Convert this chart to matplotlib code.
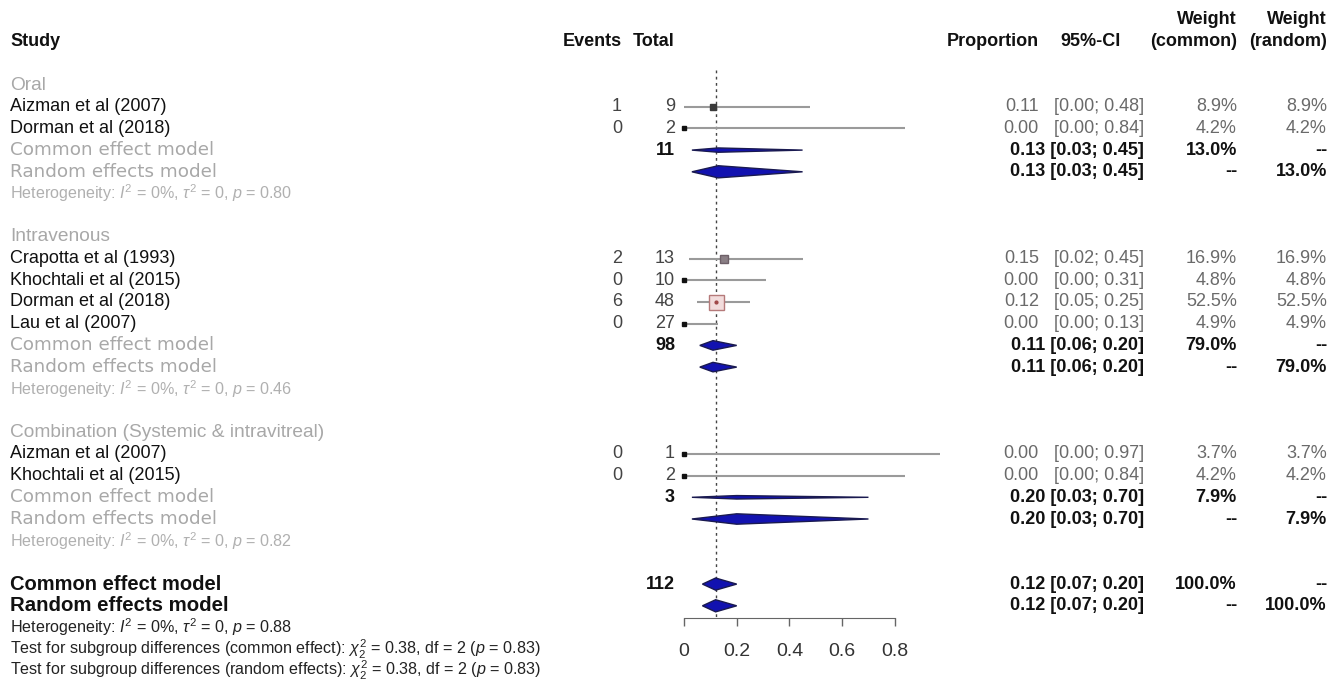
import numpy as np
import matplotlib
matplotlib.use('Agg')
import matplotlib.pyplot as plt
from matplotlib.transforms import blended_transform_factory
from matplotlib.patches import Polygon

plt.rcParams['font.family'] = ['Liberation Sans', 'DejaVu Sans']
plt.rcParams['mathtext.fontset'] = 'custom'
plt.rcParams['mathtext.rm'] = 'Liberation Sans'
plt.rcParams['mathtext.it'] = 'Liberation Sans:italic'
plt.rcParams['mathtext.bf'] = 'Liberation Sans:bold'

# 研究数据
group_names = ["Oral", "Intravenous", "Combination (Systemic & intravitreal)"]
study_group = [0, 0, 1, 1, 1, 1, 2, 2]
study_names = ["Aizman et al (2007)", "Dorman et al (2018)",
               "Crapotta et al (1993)", "Khochtali et al (2015)",
               "Dorman et al (2018)", "Lau et al (2007)",
               "Aizman et al (2007)", "Khochtali et al (2015)"]
events = [1, 0, 2, 0, 6, 0, 0, 0]
totals = [9, 2, 13, 10, 48, 27, 1, 2]
prop = [0.11, 0.00, 0.15, 0.00, 0.12, 0.00, 0.00, 0.00]
ci_lo = [0.00, 0.00, 0.02, 0.00, 0.05, 0.00, 0.00, 0.00]
ci_hi = [0.48, 0.84, 0.45, 0.31, 0.25, 0.13, 0.97, 0.84]
weight = [8.9, 4.2, 16.9, 4.8, 52.5, 4.9, 3.7, 4.2]

# 亚组合并结果 (common 与 random 相同)
grp_total = [11, 98, 3]
grp_est = [0.13, 0.11, 0.20]
grp_lo = [0.03, 0.06, 0.03]
grp_hi = [0.45, 0.20, 0.70]
grp_weight = [13.0, 79.0, 7.9]
grp_het_p = ["0.80", "0.46", "0.82"]

overall_total = 112
overall_est = 0.12
overall_lo = 0.07
overall_hi = 0.20
overall_het_p = "0.88"
subgroup_chi2 = "0.38"
subgroup_df = 2
subgroup_p = "0.83"

ticks = [0, 0.2, 0.4, 0.6, 0.8]

# 方块颜色
sq_face = ['#3a3a3a', '#111111', '#8a7f85', '#111111', '#f2dcdc', '#111111', '#111111', '#111111']
sq_edge = ['#3a3a3a', '#111111', '#6e6068', '#111111', '#b57a7a', '#111111', '#111111', '#111111']
common_h = [0.10, 0.22, 0.08]
random_h = [0.28, 0.22, 0.24]

GRAY = '#a8a8a8'
VALC = '#6a6a6a'
DIA_FACE = '#1212b0'
DIA_EDGE = '#1a1a50'
FS = 13
FS_SMALL = 11.6

W, H = 1340, 684
fig = plt.figure(figsize=(W / 100, H / 100), dpi=100)
ax = fig.add_axes([0, 0, 1, 1])
px_unit = 263.5
x0_px = 684
row_h = 21.7
y0_px = 63.3
ax.set_xlim(-x0_px / px_unit, (W - x0_px) / px_unit)
ax.set_ylim((H - y0_px) / row_h, -y0_px / row_h)
trans = blended_transform_factory(fig.transFigure, ax.transData)

# 列位置 (px)
X_STUDY = 10
X_EVENTS = 622
X_TOTAL = 675
X_PROP = 1039
X_CI = 1144
X_CI_HEAD = 1121
X_WC = 1237
X_WR = 1327


def txt(xpx, row, s, ha='right', **kw):
    kw.setdefault('fontsize', FS)
    ax.text(xpx / W, row, s, transform=trans, ha=ha, va='center', **kw)


def diamond(est, lo, hi, row, h):
    ax.add_patch(Polygon([(lo, row), (est, row - h), (hi, row), (est, row + h)],
                         closed=True, fc=DIA_FACE, ec=DIA_EDGE, lw=1, zorder=4))


grp_lab = dict(ha='left', color=GRAY, fontsize=13.8)
model_lab = dict(ha='left', color=GRAY, fontsize=13.2, family=['DejaVu Sans'])

# 表头
bold = dict(fontweight='bold', color='#111111')
txt(X_STUDY, -1, "Study", ha='left', **bold)
txt(X_EVENTS, -1, "Events", **bold)
txt(X_TOTAL, -1, "Total", **bold)
txt(X_PROP, -1, "Proportion", **bold)
txt(X_CI_HEAD, -1, "95%-CI", **bold)
txt(X_WC, -1, "(common)", **bold)
txt(X_WC, -2, "Weight", **bold)
txt(X_WR, -1, "(random)", **bold)
txt(X_WR, -2, "Weight", **bold)

row = 1
for g, gname in enumerate(group_names):
    txt(X_STUDY, row, gname, **grp_lab)
    row += 1
    for i in [k for k, sg in enumerate(study_group) if sg == g]:
        txt(X_STUDY, row, study_names[i], ha='left', color='#111111')
        txt(X_EVENTS, row, str(events[i]), color='#444444')
        txt(X_TOTAL, row, str(totals[i]), color='#444444')
        txt(X_PROP, row, f"{prop[i]:.2f}", color=VALC)
        txt(X_CI, row, f"[{ci_lo[i]:.2f}; {ci_hi[i]:.2f}]", color=VALC)
        txt(X_WC, row, f"{weight[i]:.1f}%", color=VALC)
        txt(X_WR, row, f"{weight[i]:.1f}%", color=VALC)
        ax.plot([ci_lo[i], ci_hi[i]], [row, row], color='#9a9a9a', lw=1.5,
                solid_capstyle='butt', zorder=2)
        side = 15 * np.sqrt(weight[i] / 52.5) * 0.72
        ax.plot(prop[i], row, marker='s', ms=side, mfc=sq_face[i], mec=sq_edge[i],
                mew=1, zorder=3)
        if weight[i] > 30:
            ax.plot(prop[i], row, marker='o', ms=2, color='#a04848', zorder=4)
        row += 1
    est_s = f"{grp_est[g]:.2f} [{grp_lo[g]:.2f}; {grp_hi[g]:.2f}]"
    # common effect
    txt(X_STUDY, row, "Common effect model", **model_lab)
    txt(X_TOTAL, row, str(grp_total[g]), **bold)
    txt(X_CI, row, est_s, **bold)
    txt(X_WC, row, f"{grp_weight[g]:.1f}%", **bold)
    txt(X_WR, row, "--", **bold)
    diamond(grp_est[g], grp_lo[g], grp_hi[g], row, common_h[g])
    row += 1
    # random effects
    txt(X_STUDY, row, "Random effects model", **model_lab)
    txt(X_CI, row, est_s, **bold)
    txt(X_WC, row, "--", **bold)
    txt(X_WR, row, f"{grp_weight[g]:.1f}%", **bold)
    diamond(grp_est[g], grp_lo[g], grp_hi[g], row, random_h[g])
    row += 1
    txt(X_STUDY, row, rf"Heterogeneity: $I^2$ = 0%, $\tau^2$ = 0, $p$ = {grp_het_p[g]}",
        ha='left', color='#b0b0b0', fontsize=FS_SMALL)
    row += 2

# 总体合并
est_s = f"{overall_est:.2f} [{overall_lo:.2f}; {overall_hi:.2f}]"
txt(X_STUDY, row, "Common effect model", ha='left', fontweight='bold', color='#111111', fontsize=14.5)
txt(X_TOTAL, row, str(overall_total), **bold)
txt(X_CI, row, est_s, **bold)
txt(X_WC, row, "100.0%", **bold)
txt(X_WR, row, "--", **bold)
diamond(overall_est, overall_lo, overall_hi, row, 0.28)
row += 1
txt(X_STUDY, row, "Random effects model", ha='left', fontweight='bold', color='#111111', fontsize=14.7)
txt(X_CI, row, est_s, **bold)
txt(X_WC, row, "--", **bold)
txt(X_WR, row, "100.0%", **bold)
diamond(overall_est, overall_lo, overall_hi, row, 0.28)
axis_row = row + 0.55
row += 1
small = dict(ha='left', color='#222222', fontsize=FS_SMALL)
txt(X_STUDY, row, rf"Heterogeneity: $I^2$ = 0%, $\tau^2$ = 0, $p$ = {overall_het_p}", **small)
row += 1
txt(X_STUDY, row, rf"Test for subgroup differences (common effect): $\chi^2_{subgroup_df}$ = {subgroup_chi2}, df = {subgroup_df} ($p$ = {subgroup_p})", **small)
row += 1
txt(X_STUDY, row, rf"Test for subgroup differences (random effects): $\chi^2_{subgroup_df}$ = {subgroup_chi2}, df = {subgroup_df} ($p$ = {subgroup_p})", **small)

# 参考线
ax.plot([overall_est, overall_est], [0.3, axis_row], color='#444444', lw=1,
        linestyle=(0, (2, 2.5)), zorder=1)

# x 轴
for s in ['left', 'top', 'right']:
    ax.spines[s].set_visible(False)
ax.spines['bottom'].set_position(('data', axis_row))
ax.spines['bottom'].set_bounds(ticks[0], ticks[-1])
ax.spines['bottom'].set_color('#666666')
ax.set_xticks(ticks)
ax.set_xticklabels([f"{t:g}" for t in ticks])
ax.set_yticks([])
ax.tick_params(axis='x', direction='out', length=6, width=1, colors='#666666',
               labelcolor='#333333', labelsize=14, pad=12)
ax.set_facecolor('none')

fig.savefig('out.png', dpi=100, facecolor='white')
